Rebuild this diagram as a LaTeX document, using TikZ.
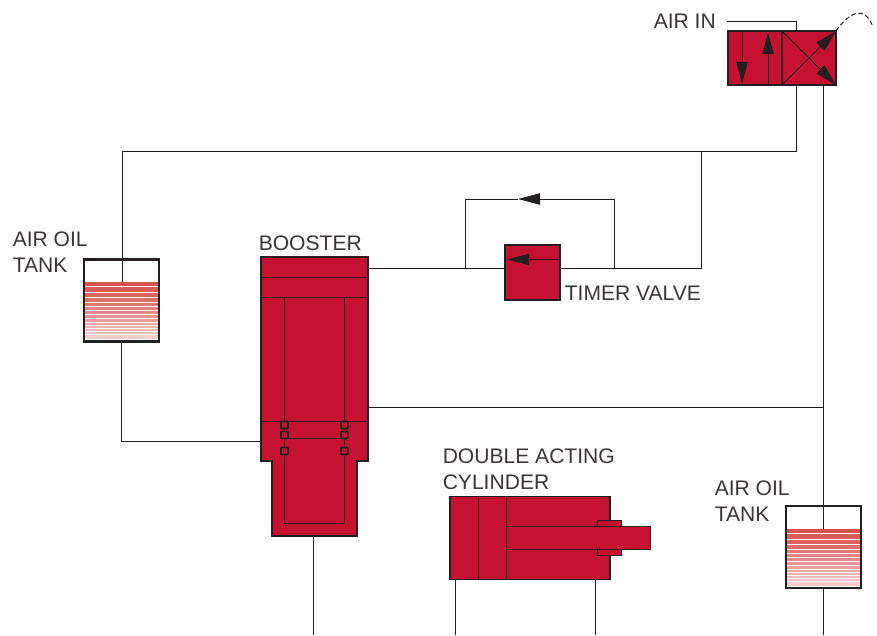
\documentclass[tikz,border=0pt]{standalone}
\usepackage{fontspec}
\setmainfont{Liberation Sans}
\usetikzlibrary{arrows.meta}
\definecolor{bodyred}{HTML}{C41230}
\definecolor{oilred}{HTML}{D2403F}
\definecolor{inkgray}{HTML}{231F20}
\definecolor{txtgray}{HTML}{3A3637}
\tikzset{
    LN/.style ={draw=inkgray,line width=0.75pt},
    ARW/.style ={LN,-{Stealth[length=16.5pt,width=8.5pt,inset=0pt]}},
    RB/.style 2 args={rectangle,minimum width=#1*0.75pt,minimum height=#2*0.75pt,inner sep=0pt,outer sep=0pt,draw=inkgray,line width=0.85pt,fill=bodyred},
    TK/.style ={rectangle,minimum width=75*0.75pt,minimum height=82*0.75pt,inner sep=0pt,outer sep=0pt,draw=inkgray,line width=1.7pt},
    SEAL/.style ={rectangle,rounded corners=0.5pt,minimum size=5.2pt,inner sep=0pt,draw=inkgray,line width=1.2pt,fill=bodyred},
    TXT/.style ={anchor=north west,inner sep=0pt,align=left,text=txtgray,font=\fontsize{15.8}{19.5}\selectfont}}
\begin{document}
\begin{tikzpicture}[x=0.75pt,y=-0.75pt]
        \useasboundingbox (0,0) rectangle (877,635);
        % lines first, the bodies sit on top
        \node[RB={54}{54}] (v1) at(755,58){};
        \node[RB={54}{54}] (v2) at(809,58){};
        \node[RB={55}{55}] (tv) at(532.5,272.5){};
        \coordinate (a1) at(727,22);
        \coordinate (a2) at(796,31);
        \coordinate (a3) at(796,85);
        \coordinate (a4) at(823,85);
        \coordinate (j1) at(122,151);
        \coordinate (j2) at(701,151);
        \coordinate (j3) at(122,282);
        \coordinate (b1) at(368,268);
        \coordinate (b2) at(368,407);
        \coordinate (b3) at(261,441);
        \coordinate (b4) at(313,536);
        \coordinate (r1) at(823,407);
        \coordinate (r2) at(823,529);
        \coordinate (e1) at(313,635);
        \coordinate (e2) at(455,635);
        \coordinate (e3) at(595,635);
        \coordinate (e4) at(823,635);
        \coordinate (p1) at(465,268);
        \coordinate (p2) at(614,268);
        \coordinate (p3) at(518,199);
        \coordinate (p4) at(701,268);
        % air oil tanks
        \foreach \ya/\yb [count=\n,evaluate=\n as \tint using 96-5*\n] in {0/4.3,5/10.3,11/15.3,16/20.3,21/24.3,25/28.3,29/32.3,33/36.3,37/40.3,41/43.3,44/46.3,47/49.3,50/52.3,53/57}{
            \fill[oilred!\tint!white] (85,282+\ya) rectangle (158,282+\yb);
            \fill[oilred!\tint!white] (787,529+\ya) rectangle (860,529+\yb);
        }
        \node[TK] (t1) at(121.5,300.5){};
        \node[TK] (t2) at(823.5,547){};
        \draw[LN] (a1) -| (a2);
        \draw[LN] (a3) |- (j1) -- (j3);
        \draw[LN] (j2) -- (p4) -- (p4 -| tv.east);
        \draw[LN] (b1) -- (b1 -| tv.west);
        \draw[LN] (b2) -- (r1);
        \draw[LN] (a4) -- (r2);
        \draw[ARW] (p2) |- (p3);
        \draw[LN] (p1) |- (p3);
        \draw[LN] (b4) -- (e1);
        \draw[LN] (t1.south) |- (b3);
        \draw[LN] (t2.south -| r2) -- (e4);
        % booster
        \draw[LN,line width=0.85pt,fill=bodyred] (261,257) -- (368,257) -- (368,461) -- (357,461) -- (357,536) -- (272,536) -- (272,461) -- (261,461) -- cycle;
        \draw[LN] (261,277) -- (368,277);
        \draw[LN] (261,297) -- (368,297);
        \draw[LN] (261,421.5) -- (368,421.5);
        \draw[LN] (284.5,297) -- (284.5,523.5) -- (344.5,523.5) -- (344.5,297);
        \draw[LN] (284.5,438.5) -- (344.5,438.5);
        \foreach \sy in {425,435,451}{
            \node[SEAL] (sl\sy) at(284.5,\sy){};
            \node[SEAL] (sr\sy) at(344.5,\sy){};
        }
        % valve arrows
        \draw[ARW] (v1.north west -| 742,0) -- (742,84);
        \draw[ARW] (v1.south west -| 768,0) -- (768,32);
        \draw[ARW] (v2.south west) -- (v2.north east);
        \draw[ARW] (v2.north west) -- (v2.south east);
        \coordinate (d1) at(873,27);
        \draw[LN,dash pattern=on 3.5pt off 2pt] (v2.north east) .. controls (848,14) and (864,3) .. (d1);
        % timer arrow
        \coordinate (ta) at(507,259.5);
        \draw[ARW] (tv.east |- ta) -- (ta);
        % cylinder
        \node[RB={160}{82.5}] (cy) at(530,538){};
        \node[RB={24}{35}] (gl) at(609.7,538.2){};
        \node[RB={143.6}{23.4}] (rd) at(578.5,538){};
        \draw[LN] (478.3,497) -- (478.3,579.3);
        \draw[LN] (506.7,497) -- (506.7,579.3);
        \draw[LN] (cy.south west -| 455,0) -- (e2);
        \draw[LN] (cy.south west -| 595,0) -- (e3);
        % labels
        \node[TXT] (l1) at(653.5,13.7){AIR IN};
        \node[TXT] (l2) at(12.5,231.7){AIR OIL\\TANK};
        \node[TXT] (l3) at(258.5,235.7){BOOSTER};
        \node[TXT] (l4) at(564.5,285.7){TIMER VALVE};
        \node[TXT] (l5) at(442.5,448.7){DOUBLE ACTING\\CYLINDER};
        \node[TXT] (l6) at(714.5,480.7){AIR OIL\\TANK};
    \end{tikzpicture}
\end{document}
